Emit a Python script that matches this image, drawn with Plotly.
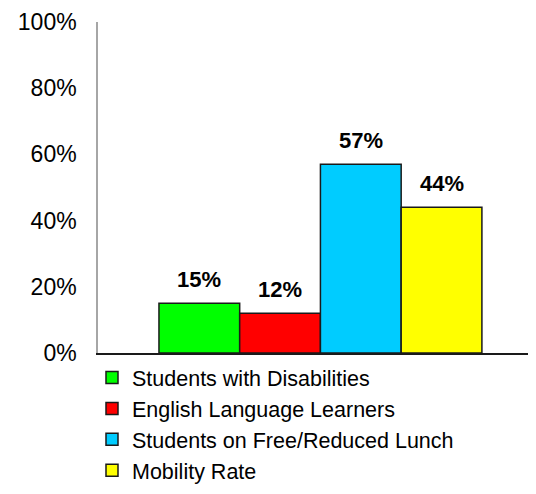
import plotly.graph_objects as go

categories = ["Students with Disabilities", "English Language Learners",
              "Students on Free/Reduced Lunch", "Mobility Rate"]
values = [15, 12, 57, 44]
colors = ["#00FF00", "#FF0000", "#00CCFF", "#FFFF00"]
y_ticks = [0, 20, 40, 60, 80, 100]
y_tick_text = [f"{t}%" for t in y_ticks]

FONT = "Liberation Sans, Arial, sans-serif"

fig = go.Figure()
for i, (name, v, c) in enumerate(zip(categories, values, colors)):
    fig.add_trace(go.Bar(
        x=[i], y=[v], name=name, width=1,
        marker=dict(color=c, line=dict(color="#1a1a1a", width=1.5)),
        legendgroup=name, showlegend=True, hoverinfo="skip",
    ))
    fig.add_annotation(x=i, y=v, text=f"<b>{v}%</b>", showarrow=False,
                       yanchor="bottom", yshift=9,
                       font=dict(family=FONT, size=22, color="black"))

fig.update_layout(
    width=528, height=486,
    margin=dict(l=90, r=0, t=14, b=141, pad=0),
    paper_bgcolor="white", plot_bgcolor="white",
    barmode="overlay",
    font=dict(family=FONT, color="black"),
    showlegend=True,
    legend=dict(orientation="v", x=-0.0137, xanchor="left", y=-0.012, yanchor="top",
                font=dict(size=21.5), tracegroupgap=2, traceorder="normal",
                itemclick=False, itemdoubleclick=False),
    xaxis=dict(range=[-1.255, 4.17], showticklabels=False, showgrid=False,
               zeroline=False, showline=True, linecolor="#1a1a1a", linewidth=1.5,
               ticks=""),
    yaxis=dict(range=[0, 100], tickmode="array", tickvals=y_ticks, ticktext=y_tick_text,
               showgrid=False, zeroline=False, showline=True, linecolor="#a6a6a6",
               linewidth=1.5, ticks="", ticklabelstandoff=15,
               tickfont=dict(size=23)),
)

fig.write_html("out.html")
